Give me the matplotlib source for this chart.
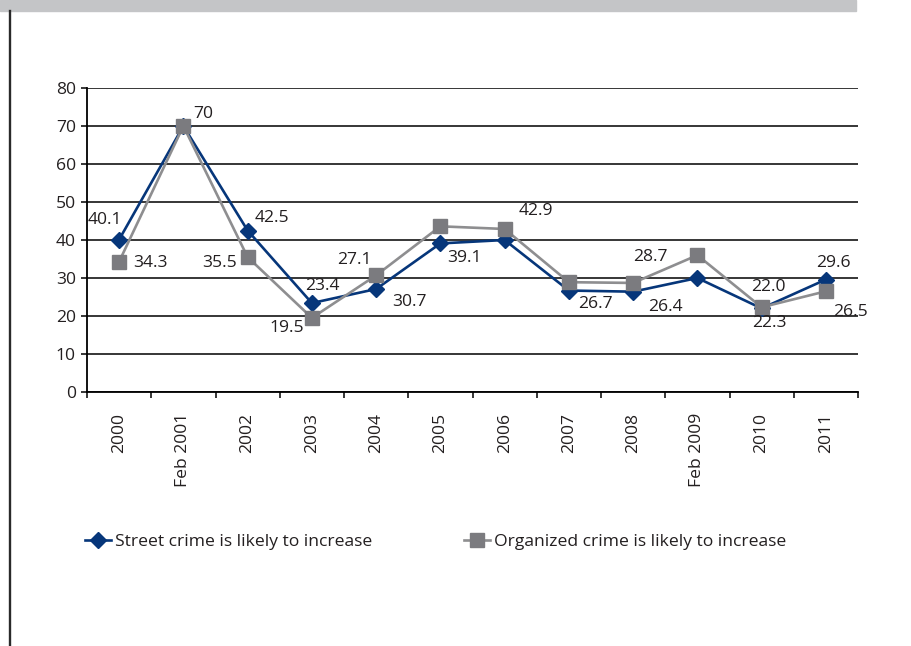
import numpy as np
import matplotlib
matplotlib.use("Agg")
from matplotlib import pyplot as plt
from matplotlib.patches import Rectangle
from matplotlib.lines import Line2D

plt.rcParams['font.family'] = ['Open Sans', 'DejaVu Sans']

# data
categories = ["2000", "Feb 2001", "2002", "2003", "2004", "2005", "2006",
              "2007", "2008", "Feb 2009", "2010", "2011"]
street = [40.1, 70.0, 42.5, 23.4, 27.1, 39.1, 40.0, 26.7, 26.4, 30.0, 22.0, 29.6]
organized = [34.3, 70.0, 35.5, 19.5, 30.7, 43.6, 42.9, 28.9, 28.7, 36.0, 22.3, 26.5]
street_labels = ["40.1", "70", "42.5", "23.4", "27.1", "39.1", None,
                 "26.7", "26.4", None, "22.0", "29.6"]
organized_labels = ["34.3", None, "35.5", "19.5", "30.7", None, "42.9",
                    None, "28.7", None, "22.3", "26.5"]

# label offsets in pixels (dx, dy up positive)
street_offsets = [(-14, 20), (20, 12), (24, 12), (11, 17), (-22, 29), (24, -15), None,
                  (27, -13), (32, -15), None, (7, 21), (8, 17)]
organized_offsets = [(31, -1), None, (-28, -6), (-25, -10), (33, -27), None, (31, 18),
                     None, (17, 26), None, (8, -16), (25, -21)]

blue = "#06367a"
grey_line = "#8e8e90"
grey_mark = "#7b7b7f"
txt = "#231f20"
fs = 12.6

fig = plt.figure(figsize=(9.11, 6.46), dpi=100)
W, H = 911, 646
ax = fig.add_axes([87 / W, 1 - 392 / H, (858 - 87) / W, (392 - 88) / H])

x = np.arange(len(categories))
ax.plot(x, street, color=blue, lw=1.9, marker="D", ms=8.5, zorder=4)
ax.plot(x, organized, color=grey_line, lw=1.9, marker="s", ms=10,
        mfc=grey_mark, mec=grey_mark, zorder=5)

for i, lab in enumerate(street_labels):
    if lab is None:
        continue
    ax.annotate(lab, (x[i], street[i]), xytext=street_offsets[i],
                textcoords="offset pixels", ha="center", va="center",
                fontsize=fs, color=txt, zorder=6)
for i, lab in enumerate(organized_labels):
    if lab is None:
        continue
    ax.annotate(lab, (x[i], organized[i]), xytext=organized_offsets[i],
                textcoords="offset pixels", ha="center", va="center",
                fontsize=fs, color=txt, zorder=6, annotation_clip=False)

ax.set_xlim(-0.5, len(categories) - 0.5)
ax.set_ylim(0, 80)
ax.set_yticks(np.arange(0, 81, 10))
ax.yaxis.grid(True, color="black", lw=1.1)
ax.set_axisbelow(False)
ax.set_xticks(x)
ax.set_xticklabels(categories, rotation=90, fontsize=fs, color=txt)
ax.set_xticks(np.arange(-0.5, len(categories), 1), minor=True)
ax.tick_params(axis="x", which="major", length=0, pad=15)
ax.tick_params(axis="x", which="minor", length=4.5, width=1.1, color="black")
ax.tick_params(axis="y", length=4, width=1.1, pad=4, labelsize=fs, labelcolor=txt)
for s in ["top", "right"]:
    ax.spines[s].set_visible(False)
for s in ["left", "bottom"]:
    ax.spines[s].set_linewidth(1.3)
    ax.spines[s].set_color("black")

# legend, two entries placed separately
h1 = Line2D([], [], color=blue, lw=1.9, marker="D", ms=8.5)
h2 = Line2D([], [], color=grey_line, lw=1.9, marker="s", ms=10, mfc=grey_mark, mec=grey_mark)
kw = dict(frameon=False, fontsize=fs, handlelength=1.5, handletextpad=0.2,
          borderpad=0, borderaxespad=0, loc="center left")
leg1 = fig.legend([h1], ["Street crime is likely to increase"],
                  bbox_to_anchor=(85 / W, 1 - 542 / H), **kw)
leg2 = fig.legend([h2], ["Organized crime is likely to increase"],
                  bbox_to_anchor=(464 / W, 1 - 542 / H), **kw)
for leg in (leg1, leg2):
    for t in leg.get_texts():
        t.set_color(txt)

# page decorations
fig.patches.append(Rectangle((0, 1 - 11 / H), 856 / W, 11 / H, transform=fig.transFigure,
                             color="#c4c5c7", zorder=0))
fig.lines.append(Line2D([9.8 / W, 9.8 / W], [0, 1 - 11 / H], transform=fig.transFigure,
                        color="#2a2a2a", lw=1.7))

fig.savefig("out.png", dpi=100)
